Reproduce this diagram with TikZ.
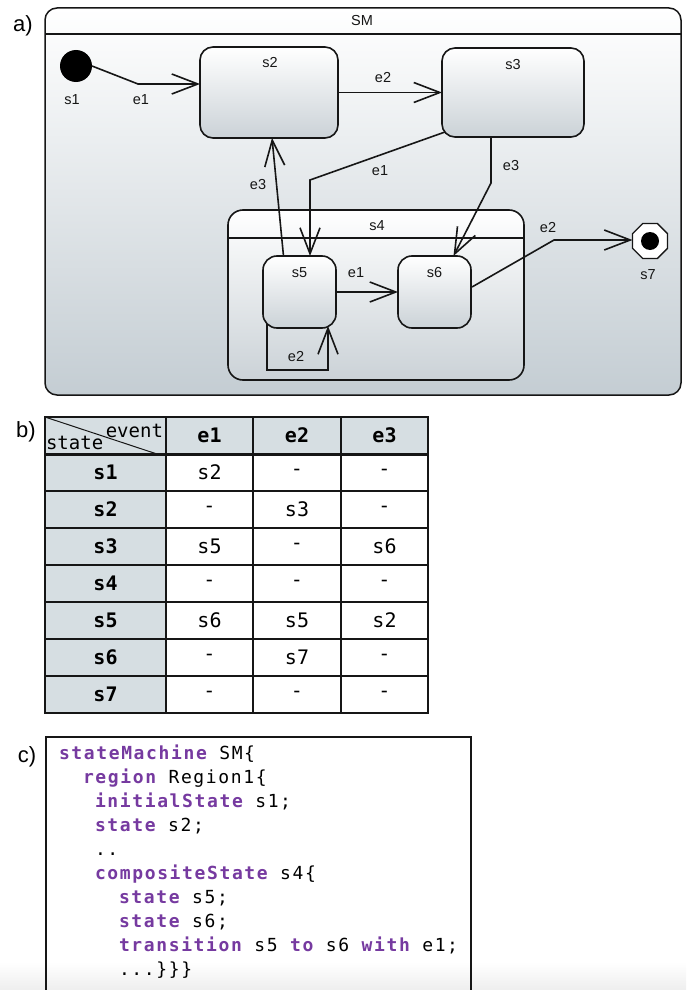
\documentclass[tikz,border=0pt]{standalone}
\usepackage{fontspec}
\setmainfont{Liberation Sans}
\newfontfamily\codefont{DejaVu Sans Mono}[LetterSpace=9]
\newfontfamily\tabfont{DejaVu Sans Mono}
\usetikzlibrary{arrows.meta,shapes.geometric,calc}
\definecolor{smbot}{RGB}{196,205,211}
\definecolor{stbot}{RGB}{203,210,215}
\definecolor{tgray}{RGB}{214,222,226}
\definecolor{kw}{RGB}{118,58,160}
\definecolor{ln}{RGB}{22,22,22}
\tikzset{
  every node/.style={inner sep=0pt, outer sep=0pt},
  lbl/.style={font=\fontsize{14.5}{16}\selectfont, text=ln},
  panel/.style={font=\fontsize{22}{26}\selectfont},
  smbox/.style={draw=ln, line width=1.5pt, rounded corners=12pt, top color=white, bottom color=smbot},
  statebox/.style={draw=ln, line width=1.6pt, rounded corners=13pt, top color=white, bottom color=stbot},
  tr/.style={draw=ln, line width=1.6pt, -{Straight Barb[length=26pt,width=20pt]}},
  tcell/.style={draw=ln, line width=1.4pt, minimum height=37pt, font=\tabfont\fontsize{20}{22}\selectfont},
  tbold/.style={font=\tabfont\bfseries\fontsize{20}{22}\selectfont},
  codeln/.style={anchor=base west, font=\codefont\fontsize{18}{20}\selectfont}
}
\newcommand{\kwd}[1]{\textcolor{kw}{\bfseries #1}}
\begin{document}
\begin{tikzpicture}[x=1pt,y=-1pt]
\useasboundingbox (0,0) rectangle (686,990);
\fill[white] (0,0) rectangle (686,990);
\shade[top color=white, bottom color={rgb,255:red,238;green,238;blue,238}] (0,962) rectangle (686,990);

% ---------- panel a ----------
\node[panel] (pa) at (23,26) {a)};
\node[smbox, minimum width=636pt, minimum height=387pt] (SM) at (363,201.5) {};
\draw[draw=ln, line width=1.4pt] ($(SM.north west)+(0,26)$) -- ($(SM.north east)+(0,26)$);
\node[lbl] (smt) at (362,21) {SM};

\node[circle, fill=black, minimum size=32pt] (s1) at (76,66) {};
\node[lbl] (s1t) at (72,100) {s1};

\node[statebox, minimum width=138pt, minimum height=91pt] (s2) at (269,92.5) {};
\node[lbl] (s2t) at ($(s2.north)+(1,16)$) {s2};
\node[statebox, minimum width=142pt, minimum height=89pt] (s3) at (513,92.5) {};
\node[lbl] (s3t) at ($(s3.north)+(0,17)$) {s3};

\node[statebox, rounded corners=15pt, minimum width=296pt, minimum height=170pt] (s4) at (376,295) {};
\draw[draw=ln, line width=1.4pt] ($(s4.north west)+(0,28)$) -- ($(s4.north east)+(0,28)$);
\node[lbl] (s4t) at ($(s4.north)+(1,16)$) {s4};

\node[statebox, rounded corners=14pt, minimum width=73pt, minimum height=72pt] (s5) at (299.5,292) {};
\node[lbl] (s5t) at ($(s5.north)+(0,17)$) {s5};
\node[statebox, rounded corners=14pt, minimum width=73pt, minimum height=72pt] (s6) at (434.5,292) {};
\node[lbl] (s6t) at ($(s6.north)+(0,17)$) {s6};

\node[regular polygon, regular polygon sides=8, draw=ln, line width=1.3pt, fill=white, minimum size=38pt] (s7) at (650,241) {};
\fill[black] (s7.center) circle (9);
\node[lbl] (s7t) at (648,275) {s7};

% transitions
\coordinate (b1) at (138,84);
\draw[tr] (s1.east) -- (b1) -- (s2.west |- b1);
\node[lbl] (e1a) at (141,100) {e1};

\draw[tr] (s2.east) -- (s3.west);
\node[lbl] (e2a) at (383,78) {e2};

\coordinate (a3) at ($(s3.south west)+(3,-5)$);
\coordinate (b2) at (310,180);
\draw[tr] (a3) -- (b2) -- (b2 |- s5.north);
\node[lbl] (e1b) at (380,171) {e1};

\coordinate (b3) at (491,183);
\draw[tr] (s3.south -| b3) -- (b3) -- ($(s6.north)+(19,0)$);
\node[lbl] (e3a) at (511,166) {e3};

\draw[tr] ($(s5.north)+(-16,0)$) -- ($(s2.south)+(3,0)$);
\node[lbl] (e3b) at (258,185) {e3};

\draw[tr] (s5.east) -- (s6.west);
\node[lbl] (e1c) at (356,273) {e1};

\coordinate (l1) at (267,370);
\coordinate (l2) at (328,370);
\draw[tr] ($(s5.south west)+(4,-4)$) -- (l1) -- (l2) -- ($(s5.south east)+(-8,-2)$);
\node[lbl] (e2b) at (296,357) {e2};

\coordinate (b4) at (554,240);
\draw[tr] ($(s6.east)+(1,-5)$) -- (b4) -- (b4 -| s7.west);
\node[lbl] (e2c) at (548,228) {e2};

% ---------- panel b ----------
\node[panel] (pb) at (26,432) {b)};
\node[tcell, fill=tgray, minimum width=121pt] (h0) at (105.5,435.5) {};
\node[tcell, tbold, fill=tgray, minimum width=87pt] (h1) at (209.5,435.5) {e1};
\node[tcell, tbold, fill=tgray, minimum width=88pt] (h2) at (297,435.5) {e2};
\node[tcell, tbold, fill=tgray, minimum width=87pt] (h3) at (384.5,435.5) {e3};
\draw[draw=ln, line width=1pt] (h0.north west) -- ($(h0.south east)+(-9,0)$);
\node[anchor=base east, font=\tabfont\fontsize{19}{22}\selectfont] (hev) at (163,437) {event};
\node[anchor=base west, font=\tabfont\fontsize{19}{22}\selectfont] (hst) at (46,449) {state};

\foreach \r/\a/\b/\c [count=\i] in {s1/s2/-/-, s2/-/s3/-, s3/s5/-/s6, s4/-/-/-, s5/s6/s5/s2, s6/-/s7/-, s7/-/-/-}{
  \pgfmathsetmacro{\yy}{454+37*(\i-1)+18.5}
  \node[tcell, tbold, fill=tgray, minimum width=121pt] (r\i-0) at (105.5,\yy) {\r};
  \node[tcell, fill=white, minimum width=87pt] (r\i-1) at (209.5,\yy) {\a};
  \node[tcell, fill=white, minimum width=88pt] (r\i-2) at (297,\yy) {\b};
  \node[tcell, fill=white, minimum width=87pt] (r\i-3) at (384.5,\yy) {\c};
}
\draw[draw=ln, line width=3pt] (h0.south west) -- (h3.south east);
\draw[draw=ln, line width=2pt] (h0.north west) rectangle (r7-3.south east);

% ---------- panel c ----------
\node[panel] (pc) at (27,757) {c)};
\draw[draw=ln, line width=1.5pt] (46,990) -- (46,737) -- (471,737) -- (471,990);
\node[codeln] (c1) at (59,759) {\kwd{stateMachine} SM\{};
\node[codeln] (c2) at (83,783) {\kwd{region} Region1\{};
\node[codeln] (c3) at (95,807) {\kwd{initialState} s1;};
\node[codeln] (c4) at (95,831) {\kwd{state} s2;};
\node[codeln] (c5) at (95,855) {..};
\node[codeln] (c6) at (95,879) {\kwd{compositeState} s4\{};
\node[codeln] (c7) at (119,903) {\kwd{state} s5;};
\node[codeln] (c8) at (119,927) {\kwd{state} s6;};
\node[codeln] (c9) at (119,951) {\kwd{transition} s5 \kwd{to} s6 \kwd{with} e1;};
\node[codeln] (c10) at (119,975) {...\}\}\}};
\end{tikzpicture}
\end{document}
